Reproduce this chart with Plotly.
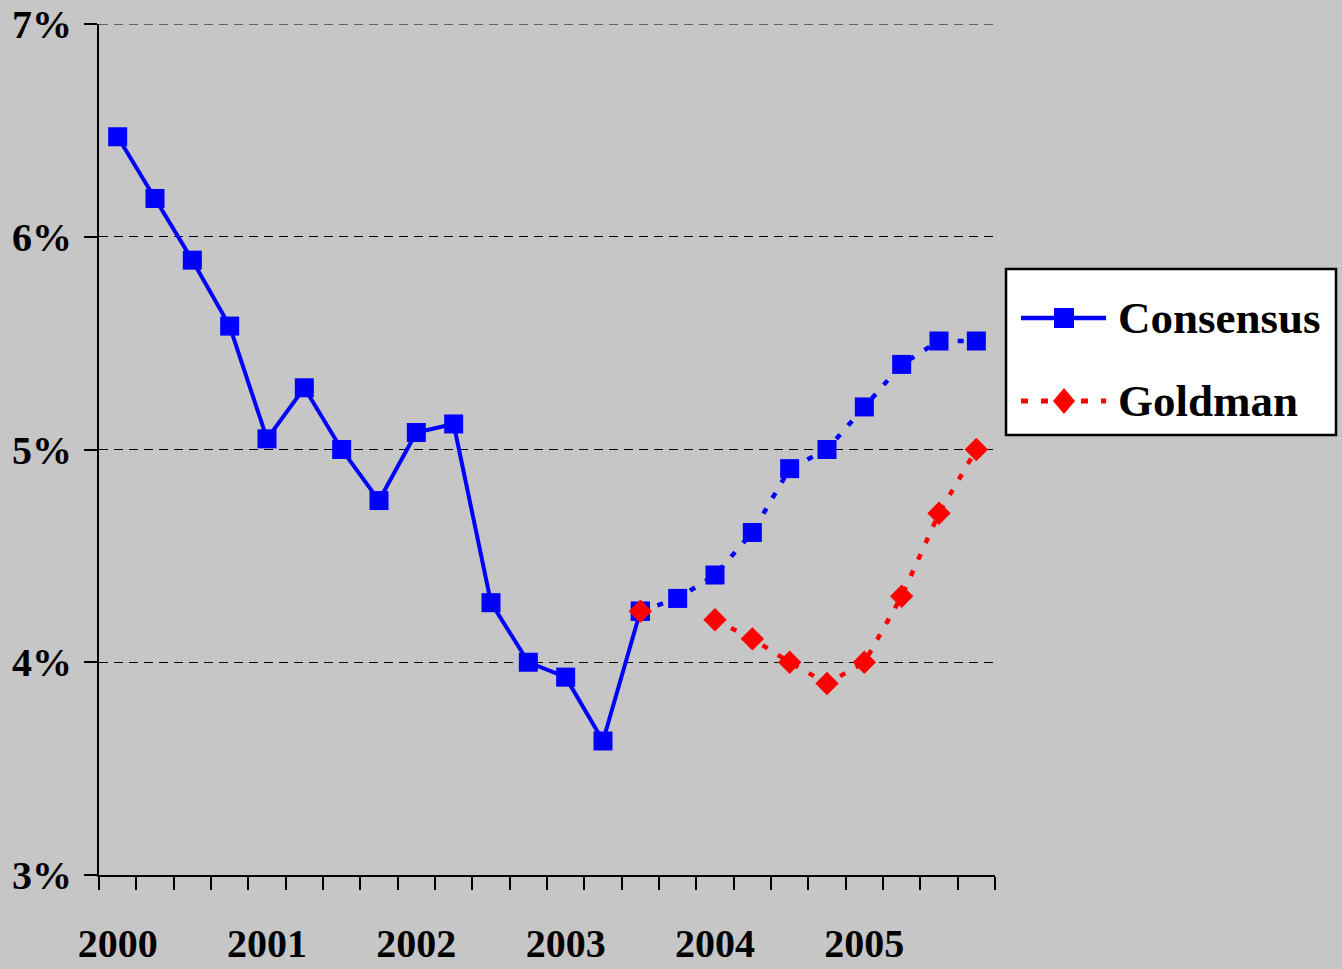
import plotly.graph_objects as go

# Quarterly 10-year yield path and forecasts, 2000Q1 - 2005Q4
years = ["2000", "2001", "2002", "2003", "2004", "2005"]
quarters = [f"{y}Q{q}" for y in years for q in range(1, 5)]

consensus_actual = [6.47, 6.18, 5.89, 5.58, 5.05, 5.29, 5.00, 4.76,
                    5.08, 5.12, 4.28, 4.00, 3.93, 3.63, 4.24]
consensus_forecast = [4.24, 4.30, 4.41, 4.61, 4.91, 5.00, 5.20, 5.40, 5.51, 5.51]
goldman_forecast = [4.24, None, 4.20, 4.11, 4.00, 3.90, 4.00, 4.31, 4.70, 5.00]

y_ticks = [3, 4, 5, 6, 7]
y_tick_text = ["3%", "4%", "5%", "6%", "7%"]

# numeric quarter positions: quarter i is centred at i + 0.5
pos = [i + 0.5 for i in range(len(quarters))]
pos_actual = pos[:len(consensus_actual)]
pos_forecast = pos[len(consensus_actual) - 1:]

BLUE = "#0000ff"
RED = "#ff0000"
BG = "#c6c6c6"
FONT = "Liberation Serif"

fig = go.Figure()
fig.add_trace(go.Scatter(
    x=pos_forecast, y=consensus_forecast, mode="lines+markers",
    line=dict(color=BLUE, width=4.5, dash="6px,12px"),
    marker=dict(symbol="square", size=19, color=BLUE),
    showlegend=False, hoverinfo="skip"))
fig.add_trace(go.Scatter(
    x=pos_actual, y=consensus_actual, mode="lines+markers",
    line=dict(color=BLUE, width=4),
    marker=dict(symbol="square", size=19, color=BLUE),
    name="Consensus", showlegend=False))
fig.add_trace(go.Scatter(
    x=pos_forecast, y=goldman_forecast, mode="lines+markers",
    line=dict(color=RED, width=4.5, dash="6px,12px"),
    marker=dict(symbol="diamond", size=18, color=RED),
    connectgaps=False, name="Goldman", showlegend=False))

year_pos = [pos[4 * k] for k in range(len(years))]

fig.update_xaxes(
    range=[0, len(quarters)], automargin=False,
    tickmode="array", tickvals=year_pos, ticktext=years,
    ticks="", ticklabelstandoff=32,
    tickfont=dict(family=FONT, size=40, color="black", weight="bold"),
    showgrid=False, zeroline=False,
    showline=True, linecolor="black", linewidth=2,
    minor=dict(ticks="outside", tick0=0, dtick=1, ticklen=13,
               tickwidth=2, tickcolor="black", showgrid=False),
)
fig.update_yaxes(
    range=[3, 7], automargin=False,
    tickmode="array", tickvals=y_ticks, ticktext=y_tick_text,
    ticks="outside", ticklen=13, tickwidth=2, tickcolor="black",
    ticklabelstandoff=4,
    tickfont=dict(family=FONT, size=40, color="black", weight="bold"),
    showgrid=True, gridcolor="black", gridwidth=1, griddash="9px,6px",
    zeroline=False,
    showline=True, linecolor="black", linewidth=2,
)

# legend box drawn in paper space to the right of the plot
lx0, lx1, ly0, ly1 = 1.0123, 1.3806, 0.517, 0.712
row1, row2 = 0.6545, 0.557
sx0, sx1, sxm, tx = 1.029, 1.124, 1.077, 1.135
shapes = [
    # dashed guide along the top of the plot at 7%
    dict(type="line", xref="paper", yref="y", x0=0, x1=1, y0=7, y1=7,
         line=dict(color="black", width=1, dash="9px,6px"), layer="below"),
    dict(type="rect", xref="paper", yref="paper", x0=lx0, x1=lx1, y0=ly0, y1=ly1,
         line=dict(color="black", width=2.5), fillcolor="white"),
    dict(type="line", xref="paper", yref="paper", x0=sx0, x1=sx1, y0=row1, y1=row1,
         line=dict(color=BLUE, width=4.5)),
    dict(type="rect", xref="paper", yref="paper", xsizemode="pixel", ysizemode="pixel",
         xanchor=sxm, yanchor=row1, x0=-10, x1=10, y0=-10, y1=10,
         line=dict(width=0), fillcolor=BLUE),
    dict(type="line", xref="paper", yref="paper", x0=sx0, x1=sx1, y0=row2, y1=row2,
         line=dict(color=RED, width=5, dash="7px,13px")),
    dict(type="path", xref="paper", yref="paper", xsizemode="pixel", ysizemode="pixel",
         xanchor=sxm, yanchor=row2, path="M -11 0 L 0 13 L 11 0 L 0 -13 Z",
         line=dict(width=0), fillcolor=RED),
]
annotations = [
    dict(xref="paper", yref="paper", x=tx, y=row1, text="<b>Consensus</b>",
         showarrow=False, xanchor="left", yanchor="middle",
         font=dict(family=FONT, size=45, color="black")),
    dict(xref="paper", yref="paper", x=tx, y=row2, text="<b>Goldman</b>",
         showarrow=False, xanchor="left", yanchor="middle",
         font=dict(family=FONT, size=45, color="black")),
]

fig.update_layout(
    width=1342, height=969,
    margin=dict(l=99, r=347, t=24, b=94),
    paper_bgcolor=BG, plot_bgcolor=BG,
    font=dict(family=FONT, color="black", size=40),
    shapes=shapes, annotations=annotations,
    showlegend=False,
)

fig.write_html("out.html")
